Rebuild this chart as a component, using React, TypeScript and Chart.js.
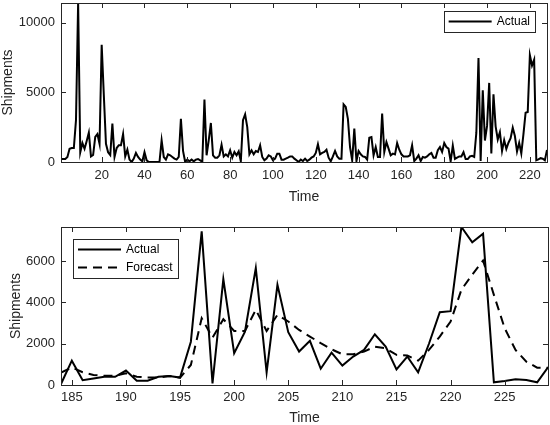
import React, { useEffect, useRef } from "react";
import { Chart, registerables } from "chart.js";

Chart.register(...registerables);

// ---------------- data ----------------
// Top panel: full history, positions 1..228 on the Time axis
const historyEarly: number[] = [
  215, 215, 215, 360, 950, 1000, 1000, 3000, 11400, 700,
  1360, 950, 1500, 2100, 400, 500, 1800, 2000, 1300, 8400,
  4800, 1300, 700, 500, 2750, 360, 1000, 1200, 1200, 2000,
  400, 880, 170, 0, 240, 650, 360, 170, 50, 700,
  120, 0, 0, 0, 0, 0, 0, 1550, 360, 170,
  550, 480, 360, 240, 170, 360, 3100, 800, 0, 170,
  50, 170, 50, 170, 215, 120, 0, 4470, 480, 1550,
  2800, 480, 310, 310, 480, 1240, 400, 550, 400, 840,
  310, 720, 480, 760, 50, 3000, 3420, 2500, 550, 840,
  550, 790, 720, 1200, 360, 120, 240, 480, 400, 120,
  240, 600, 600, 170, 170, 240, 310, 400, 400, 240,
  120, 0, 170, 70, 240, 70, 170, 310, 400, 650,
  1270, 550, 650, 720, 880, 310, 50, 400, 790, 400,
  240, 240, 4130, 3950, 3100, 1070, 120, 2390, 70, 790,
  550, 400, 360, 170, 1740, 1790, 480, 1070, 360, 360,
  3470, 720, 1430, 960, 480, 600, 550, 1360, 880, 550,
  400, 400, 400, 480, 1200, 70, 240, 480, 70, 360,
  310, 400, 550, 650, 310, 310, 840, 1070, 720, 1360,
  1070, 960,
];

// Bottom panel: time 184..229
const recentActual: number[] = [
  50, 1180, 230, 320, 400, 400, 700, 210, 210, 400,
  440, 360, 2100, 7450, 80, 5135, 1540, 2590, 5670, 615,
  4860, 2560, 1620, 2140, 790, 1570, 940, 1380, 1700, 2460,
  1860, 760, 1380, 615, 2000, 3530, 3580, 7660, 6920, 7340,
  130, 190, 275, 240, 130, 860,
];
const recentForecast: number[] = [
  600, 850, 620, 490, 450, 450, 570, 400, 360, 360,
  440, 360, 970, 3240, 2300, 3190, 2620, 2620, 3650, 2620,
  3400, 3080, 2670, 2350, 2030, 1730, 1490, 1490, 1620, 1860,
  1780, 1460, 1430, 1180, 1700, 2350, 3080, 4620, 5350, 6030,
  4370, 2750, 1700, 1130, 840, 840,
];

const historyStart = 1;
const recentStart = 184;

const topXTicks = [20, 40, 60, 80, 100, 120, 140, 160, 180, 200, 220];
const topYTicks = [0, 5000, 10000];
const bottomXTicks = [185, 190, 195, 200, 205, 210, 215, 220, 225];
const bottomYTicks = [0, 2000, 4000, 6000];

// ---------------- styling ----------------
const FONT = "'Liberation Sans', Arial, Helvetica, sans-serif";
const AXIS_COLOR = "#262626";

function toPoints(start: number, values: number[]) {
  return values.map((v, i) => ({ x: start + i, y: v }));
}

const boxPlugin = {
  id: "matlabBox",
  afterDatasetsDraw(chart: any) {
    const { ctx, chartArea: a, scales } = chart;
    const L = 5;
    ctx.save();
    ctx.strokeStyle = AXIS_COLOR;
    ctx.lineWidth = 1;
    ctx.beginPath();
    for (const t of scales.x.ticks) {
      const px = Math.round(scales.x.getPixelForValue(t.value)) + 0.5;
      ctx.moveTo(px, a.bottom);
      ctx.lineTo(px, a.bottom - L);
      ctx.moveTo(px, a.top);
      ctx.lineTo(px, a.top + L);
    }
    for (const t of scales.y.ticks) {
      const py = Math.round(scales.y.getPixelForValue(t.value)) + 0.5;
      ctx.moveTo(a.left, py);
      ctx.lineTo(a.left + L, py);
      ctx.moveTo(a.right, py);
      ctx.lineTo(a.right - L, py);
    }
    ctx.stroke();
    ctx.strokeRect(
      Math.round(a.left) + 0.5,
      Math.round(a.top) + 0.5,
      Math.round(a.right - a.left),
      Math.round(a.bottom - a.top)
    );
    ctx.restore();
  },
};

const legendPlugin = {
  id: "boxLegend",
  afterDraw(chart: any, _args: any, opts: any) {
    const { ctx, chartArea: a } = chart;
    const ds = chart.data.datasets;
    ctx.save();
    ctx.font = `12px ${FONT}`;
    const sample = 43;
    const padL = 5;
    const gap = 5;
    const padR = 5;
    const rowH = 18;
    const textW = Math.max(...ds.map((d: any) => ctx.measureText(d.label).width));
    const w = padL + sample + gap + textW + padR;
    const h = rowH * ds.length + 3;
    const left = opts.anchor === "right" ? a.right - opts.dx - w : a.left + opts.dx;
    const top = a.top + opts.dy;
    ctx.fillStyle = "#ffffff";
    ctx.fillRect(left, top, w, h);
    ctx.strokeStyle = AXIS_COLOR;
    ctx.lineWidth = 1;
    ctx.strokeRect(Math.round(left) + 0.5, Math.round(top) + 0.5, Math.round(w), Math.round(h));
    ds.forEach((d: any, i: number) => {
      const cy = top + 1.5 + rowH * (i + 0.5);
      ctx.beginPath();
      ctx.setLineDash(d.borderDash || []);
      ctx.strokeStyle = d.borderColor;
      ctx.lineWidth = d.borderWidth;
      ctx.moveTo(left + padL, cy);
      ctx.lineTo(left + padL + sample, cy);
      ctx.stroke();
      ctx.setLineDash([]);
      ctx.fillStyle = "#000000";
      ctx.textBaseline = "middle";
      ctx.textAlign = "left";
      ctx.fillText(d.label, left + padL + sample + gap, cy);
    });
    ctx.restore();
  },
};

function makeOptions(cfg: {
  xMin: number;
  xMax: number;
  yMax: number;
  xTicks: number[];
  yTicks: number[];
  padTop: number;
  padRight: number;
  xAxisHeight: number;
  xTickPad: number;
  xTitlePad: number;
  yTitlePad: number;
  legend: any;
}) {
  const fixPadding = (s: any) => {
    s.paddingTop = 0;
    s.paddingBottom = 0;
    s.paddingLeft = 0;
    s.paddingRight = 0;
  };
  return {
    responsive: false,
    animation: false as const,
    events: [] as any[],
    layout: { padding: { top: cfg.padTop, right: cfg.padRight, left: 0, bottom: 0 } },
    plugins: {
      legend: { display: false },
      tooltip: { enabled: false },
      boxLegend: cfg.legend,
    },
    elements: { point: { radius: 0 }, line: { tension: 0 } },
    scales: {
      x: {
        type: "linear" as const,
        min: cfg.xMin,
        max: cfg.xMax,
        grid: { display: false, drawTicks: false },
        border: { display: false },
        afterBuildTicks: (s: any) => {
          s.ticks = cfg.xTicks.map((v) => ({ value: v }));
        },
        afterFit: (s: any) => {
          s.height = cfg.xAxisHeight;
          fixPadding(s);
        },
        ticks: {
          padding: cfg.xTickPad,
          color: AXIS_COLOR,
          font: { family: FONT, size: 13 },
          maxRotation: 0,
          autoSkip: false,
          callback: (v: any) => String(v),
        },
        title: {
          display: true,
          text: "Time",
          color: AXIS_COLOR,
          font: { family: FONT, size: 14, lineHeight: 1 },
          padding: { top: 0, bottom: cfg.xTitlePad },
        },
      },
      y: {
        type: "linear" as const,
        min: 0,
        max: cfg.yMax,
        grid: { display: false, drawTicks: false },
        border: { display: false },
        afterBuildTicks: (s: any) => {
          s.ticks = cfg.yTicks.map((v) => ({ value: v }));
        },
        afterFit: (s: any) => {
          s.width = 61;
          fixPadding(s);
        },
        ticks: {
          padding: 6,
          color: AXIS_COLOR,
          font: { family: FONT, size: 13 },
          autoSkip: false,
          callback: (v: any) => String(v),
        },
        title: {
          display: true,
          text: "Shipments",
          color: AXIS_COLOR,
          font: { family: FONT, size: 14, lineHeight: 1.2 },
          padding: { top: cfg.yTitlePad, bottom: 0 },
        },
      },
    },
  };
}

export default function App() {
  const topRef = useRef<HTMLCanvasElement | null>(null);
  const bottomRef = useRef<HTMLCanvasElement | null>(null);

  useEffect(() => {
    const history = [...historyEarly, ...recentActual];
    const historyEnd = historyStart + history.length - 1;
    const recentEnd = recentStart + recentActual.length - 1;

    const top = new Chart(topRef.current as HTMLCanvasElement, {
      type: "line",
      data: {
        datasets: [
          {
            label: "Actual",
            data: toPoints(historyStart, history),
            borderColor: "#000000",
            borderWidth: 2,
            fill: false,
          },
        ],
      },
      options: makeOptions({
        xMin: historyStart,
        xMax: historyEnd,
        yMax: Math.max(...history),
        xTicks: topXTicks,
        yTicks: topYTicks,
        padTop: 3,
        padRight: 3,
        xAxisHeight: 50,
        xTickPad: 6,
        xTitlePad: 8,
        yTitlePad: 0,
        legend: { anchor: "right", dx: 12, dy: 8 },
      }) as any,
      plugins: [boxPlugin, legendPlugin],
    });

    const bottom = new Chart(bottomRef.current as HTMLCanvasElement, {
      type: "line",
      data: {
        datasets: [
          {
            label: "Actual",
            data: toPoints(recentStart, recentActual),
            borderColor: "#000000",
            borderWidth: 2,
            fill: false,
          },
          {
            label: "Forecast",
            data: toPoints(recentStart, recentForecast),
            borderColor: "#000000",
            borderWidth: 2,
            borderDash: [9, 6],
            fill: false,
          },
        ],
      },
      options: makeOptions({
        xMin: recentStart,
        xMax: recentEnd,
        yMax: Math.max(...recentActual, ...recentForecast),
        xTicks: bottomXTicks,
        yTicks: bottomYTicks,
        padTop: 15,
        padRight: 2,
        xAxisHeight: 40,
        xTickPad: 5,
        xTitlePad: 0,
        yTitlePad: 8,
        legend: { anchor: "left", dx: 12, dy: 12 },
      }) as any,
      plugins: [boxPlugin, legendPlugin],
    });

    return () => {
      top.destroy();
      bottom.destroy();
    };
  }, []);

  return (
    <div style={{ position: "absolute", left: 0, top: 0, width: 550, height: 425, background: "#ffffff" }}>
      <canvas ref={topRef} width={550} height={212} style={{ position: "absolute", left: 0, top: 0 }} />
      <canvas ref={bottomRef} width={550} height={213} style={{ position: "absolute", left: 0, top: 212 }} />
    </div>
  );
}
